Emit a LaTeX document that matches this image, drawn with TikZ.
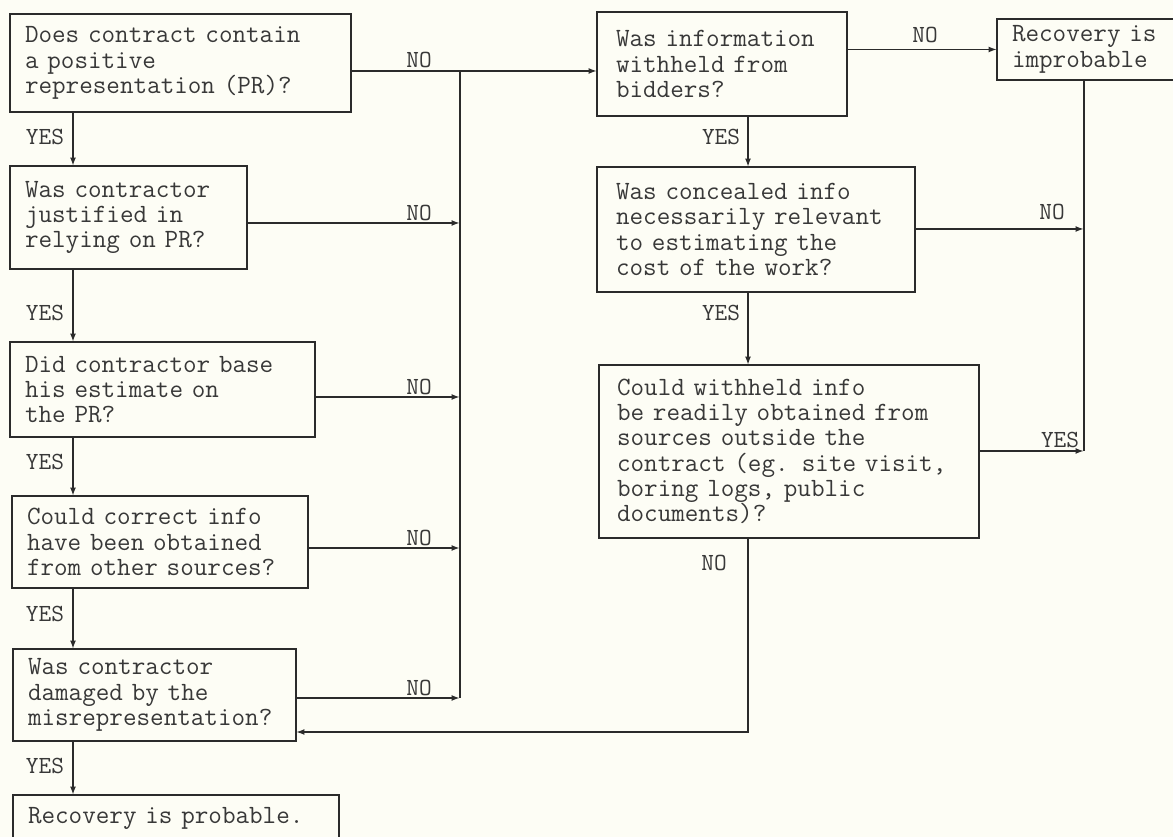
\documentclass[tikz,border=0pt]{standalone}
\usepackage{fontspec}
\usetikzlibrary{arrows.meta,calc}
\definecolor{ink}{HTML}{2B2B2B}
\definecolor{paper}{HTML}{FDFDF5}
\definecolor{type}{HTML}{383838}
\newcommand{\boxfont}{\ttfamily\fontsize{15}{14.4}\selectfont}
\newcommand{\lblfont}{\ttfamily\fontsize{14}{14}\selectfont}
\tikzset{
  qbox/.style={draw=ink,line width=1.1pt,outer sep=0pt,inner xsep=0.3cm,
    align=left,font=\boxfont,text=type},
  lbl/.style={font=\lblfont,text=type,inner sep=0pt},
  wire/.style={draw=ink,line width=1.1pt},
  arr/.style={wire,-{Latex[length=1.7mm,width=1.2mm]}}
}

\begin{document}
\begin{tikzpicture}[x=0.02cm,y=-0.02cm]
\useasboundingbox (0,0) rectangle (1173,837);
\clip (0,0) rectangle (1173,837);
\fill[paper] (0,0) rectangle (1173,837);
\node[qbox,text width=6.22cm,minimum height=1.96cm] (pr) at (180.5,63)
  {Does contract contain\\a positive\\representation (PR)?};
\node[qbox,text width=4.14cm,minimum height=2.06cm] (just) at (128.5,217.5)
  {Was contractor\\justified in\\relying on PR?};
\node[qbox,text width=5.50cm,minimum height=1.90cm] (base) at (162.5,389.5)
  {Did contractor base\\his estimate on\\the PR?};
\node[qbox,text width=5.32cm,minimum height=1.84cm] (other) at (160,542)
  {Could correct info\\have been obtained\\from other sources?};
\node[qbox,text width=5.06cm,minimum height=1.84cm] (dmg) at (154.5,695)
  {Was contractor\\damaged by the\\misrepresentation?};
\node[qbox,text width=5.92cm,minimum height=0.92cm] (prob) at (176,818)
  {Recovery is probable.};
\node[qbox,inner xsep=0.38cm,text width=4.24cm,minimum height=2.08cm] (withheld) at (722,64)
  {Was information\\withheld from\\bidders?};
\node[qbox,text width=3.4cm,minimum height=1.22cm] (improb) at (1097,49.5)
  {Recovery is\\improbable};
\node[qbox,inner xsep=0.38cm,text width=5.60cm,minimum height=2.50cm] (relev) at (756,229.5)
  {Was concealed info\\necessarily relevant\\to estimating the\\cost of the work?};
\node[qbox,inner xsep=0.36cm,text width=6.88cm,minimum height=3.46cm] (outside) at (789,451.5)
  {Could withheld info\\be readily obtained from\\sources outside the\\contract (eg. site visit,\\boring logs, public\\documents)?};

\coordinate (yx) at (73,0);
\coordinate (bustop) at (460,71);
\coordinate (busbot) at (460,698);
\coordinate (rx) at (748,0);
\coordinate (rmid) at (1084,229);
\coordinate (rbot) at (1084,451);
\coordinate (ret) at (748,732);

\foreach \a/\b/\ly in {pr/just/137,just/base/313,base/other/462,other/dmg/614,dmg/prob/766}{
  \draw[arr] (\a.south -| yx) -- (\b.north -| yx);
  \node[lbl] (yes\a) at (45,\ly) {YES};
}
\draw[wire] (pr.east |- bustop) -- (bustop);
\node[lbl] (nopr) at (419,60) {NO};
\draw[arr] (bustop) -- (withheld.west |- bustop);
\draw[wire] (bustop) -- (busbot);
\foreach \b/\y in {just/223,base/397,other/548,dmg/698}{
  \coordinate (n\b) at (460,\y);
  \draw[arr] (\b.east |- n\b) -- (n\b);
  \node[lbl] (no\b) at (419,\y-10) {NO};
}

\draw[arr] (withheld.east |- improb.west) -- (improb.west);
\node[lbl] (nowithheld) at (925,35) {NO};
\draw[arr] (withheld.south -| rx) -- (relev.north -| rx);
\node[lbl] (yeswithheld) at (721,137) {YES};
\draw[arr] (relev.south -| rx) -- (outside.north -| rx);
\node[lbl] (yesrelev) at (721,313) {YES};
\draw[wire] (improb.south -| rbot) -- (rbot);
\draw[arr] (relev.east |- rmid) -- (rmid);
\node[lbl] (norelev) at (1052,212) {NO};
\draw[arr] (outside.east |- rbot) -- (rbot);
\node[lbl] (yesoutside) at (1060,440) {YES};
\draw[arr] (outside.south -| ret) -- (ret) -- (dmg.east |- ret);
\node[lbl] (nooutside) at (714,563) {NO};
\end{tikzpicture}
\end{document}
